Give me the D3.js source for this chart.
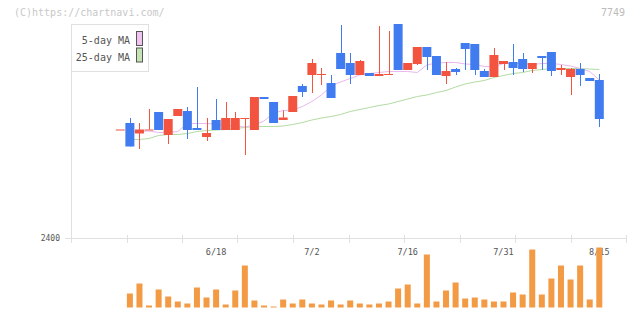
<!DOCTYPE html>
<html>
<head>
<meta charset="utf-8">
<script src="https://cdn.jsdelivr.net/npm/d3@7"></script>
<style>
  body { margin: 0; background: #fff; }
  svg { display: block; }
  text { font-family: "DejaVu Sans Mono", monospace; }
</style>
</head>
<body>
<div id="chart"></div>
<script>
// daily OHLC (yen), volume (x100 shares), moving averages
const opens  = [2617,2630,2609,2617,2652,2606,2644,2654,2620,2602,2636,2616,2616,2640,2616,2682,2672,2636,2652,2704,2726,2727,2710,2770,2750,2726,2730,2724,2727,2828,2736,2748,2782,2764,2724,2738,2790,2788,2734,2722,2748,2752,2758,2738,2764,2772,2736,2722,2738,2720,2716];
const highs  = [2617,2640,2630,2658,2652,2638,2658,2662,2702,2640,2678,2672,2652,2640,2682,2682,2672,2655,2684,2708,2758,2740,2726,2826,2770,2756,2730,2824,2814,2828,2750,2782,2782,2764,2752,2740,2790,2788,2738,2780,2754,2788,2770,2750,2764,2772,2746,2740,2750,2720,2728];
const lows   = [2617,2583,2578,2617,2616,2588,2644,2598,2616,2594,2616,2616,2616,2566,2616,2678,2630,2636,2652,2682,2690,2706,2680,2738,2708,2726,2724,2724,2727,2736,2736,2746,2736,2726,2708,2726,2736,2726,2722,2722,2736,2726,2732,2730,2736,2724,2726,2686,2704,2714,2622];
const closes = [2617,2583,2617,2617,2616,2638,2658,2616,2616,2610,2616,2640,2640,2640,2682,2678,2630,2641,2684,2692,2750,2728,2680,2738,2726,2754,2724,2728,2728,2736,2750,2782,2762,2726,2734,2732,2778,2736,2722,2766,2754,2740,2738,2750,2760,2734,2740,2738,2726,2714,2638];
const volumes = [0,1400,2400,200,1800,1100,600,400,2000,1000,1800,300,1700,4200,700,200,100,800,400,800,400,300,700,300,700,400,300,400,600,1900,2300,400,5300,600,1700,2500,900,1000,800,600,600,1500,1300,5800,1300,2900,4200,2800,4200,800,6000];
const ma5  = [null,2613,2613,2614,2611,2611,2613,2629,2629,2629,2628,2624,2624,2622,2626,2634,2650,2655,2656,2663,2673,2686,2704,2712,2719,2726,2729,2731,2733,2733,2733,2731,2746,2750,2751,2751,2748,2747,2743,2743,2749,2749,2749,2747,2749,2749,2747,2744,2739,2733,2716];
const ma25 = [null,2597,2597,2599,2605,2607,2607,2609,2613,2615,2616,2617,2619,2621,2623,2623,2623,2624,2627,2631,2636,2640,2643,2647,2653,2657,2661,2665,2668,2673,2678,2683,2686,2691,2695,2702,2708,2712,2715,2721,2725,2729,2731,2735,2737,2739,2739,2739,2739,2738,2737];
const tickIdx = [10, 20, 30, 40, 50];
const tickLabels = ["6/18", "7/2", "7/16", "7/31", "8/15"];
const yLabel = 2400;

const width = 640, height = 311;
const up = "#f25440", down = "#407bf0", volColor = "#f39a45";

const svg = d3.select("#chart").append("svg")
    .attr("width", width)
    .attr("height", height);

const x = d3.scaleLinear().domain([0, 50]).range([120.3, 599.3]);
const y = d3.scaleLinear().domain([2400, 2840]).range([238, 18]);
const yVol = d3.scaleLinear().domain([0, 6000]).range([307.5, 247.5]);
const grid = d3.scaleLinear().domain([0, 10]).range([71, 626]);

// watermark
svg.append("text")
    .attr("x", 14).attr("y", 15.5)
    .attr("font-size", 10).attr("fill", "#c8c8c8")
    .text("(C)https://chartnavi.com/");

svg.append("text")
    .attr("x", 625).attr("y", 15.5)
    .attr("text-anchor", "end")
    .attr("font-size", 10).attr("fill", "#bbb")
    .text("7749");

// axes
svg.append("line")
    .attr("x1", 65).attr("x2", 626)
    .attr("y1", 238.5).attr("y2", 238.5)
    .attr("stroke", "#e0e0e0");

svg.append("line")
    .attr("x1", 71.5).attr("x2", 71.5)
    .attr("y1", 24).attr("y2", 243)
    .attr("stroke", "#e0e0e0");

svg.selectAll(".tick")
    .data(d3.range(1, 11))
    .join("line")
    .attr("class", "tick")
    .attr("x1", d => Math.round(grid(d)) + 0.5)
    .attr("x2", d => Math.round(grid(d)) + 0.5)
    .attr("y1", 235).attr("y2", 243)
    .attr("stroke", "#e0e0e0");

svg.append("text")
    .attr("x", 60).attr("y", y(yLabel))
    .attr("dy", "0.35em")
    .attr("text-anchor", "end")
    .attr("font-size", 8).attr("fill", "#555")
    .text(yLabel);

svg.selectAll(".xlabel")
    .data(tickIdx)
    .join("text")
    .attr("class", "xlabel")
    .attr("x", d => x(d))
    .attr("y", 254.5)
    .attr("text-anchor", "middle")
    .attr("font-size", 8.5).attr("fill", "#555")
    .text((d, i) => tickLabels[i]);

// volume
svg.selectAll(".vol")
    .data(volumes)
    .join("rect")
    .attr("class", "vol")
    .attr("x", (d, i) => x(i) - 3)
    .attr("width", 6)
    .attr("y", d => yVol(d))
    .attr("height", d => yVol(0) - yVol(d))
    .attr("fill", volColor);

// moving averages
const line = d3.line()
    .defined(d => d.v != null)
    .x(d => x(d.i))
    .y(d => y(d.v));

svg.append("path")
    .datum(ma25.map((v, i) => ({ i, v })))
    .attr("fill", "none")
    .attr("stroke", "#b3dba3")
    .attr("stroke-width", 1)
    .attr("d", line);

svg.append("path")
    .datum(ma5.map((v, i) => ({ i, v })))
    .attr("fill", "none")
    .attr("stroke", "#e8b8ee")
    .attr("stroke-width", 1)
    .attr("d", line);

// candles
const candles = svg.selectAll(".candle")
    .data(opens.map((o, i) => ({ i, o, h: highs[i], l: lows[i], c: closes[i] })))
    .join("g")
    .attr("class", "candle");

candles.append("line")
    .attr("x1", d => Math.round(x(d.i)) + 0.5)
    .attr("x2", d => Math.round(x(d.i)) + 0.5)
    .attr("y1", d => y(d.h))
    .attr("y2", d => y(d.l))
    .attr("stroke", d => d.c >= d.o ? up : down);

candles.append("rect")
    .attr("x", d => x(d.i) - 4.5)
    .attr("width", 9)
    .attr("y", d => y(Math.max(d.o, d.c)))
    .attr("height", d => Math.max(1, Math.abs(y(d.o) - y(d.c))))
    .attr("fill", d => d.c >= d.o ? up : down);

// legend
const legend = svg.append("g");
legend.append("rect")
    .attr("x", 71.5).attr("y", 24.5)
    .attr("width", 77).attr("height", 47)
    .attr("fill", "#fff")
    .attr("stroke", "#e0e0e0");

const legendItems = [["5-day MA", "#f0c4f0", 44], ["25-day MA", "#c4e4b4", 60.5]];
legend.selectAll("text")
    .data(legendItems)
    .join("text")
    .attr("x", 130).attr("y", d => d[2])
    .attr("text-anchor", "end")
    .attr("font-size", 10).attr("fill", "#555")
    .text(d => d[0]);

legend.selectAll(".sw")
    .data(legendItems)
    .join("rect")
    .attr("class", "sw")
    .attr("x", 136.5).attr("y", d => d[2] - 12.5)
    .attr("width", 6).attr("height", 14)
    .attr("fill", d => d[1])
    .attr("stroke", "#555");
</script>
</body>
</html>
